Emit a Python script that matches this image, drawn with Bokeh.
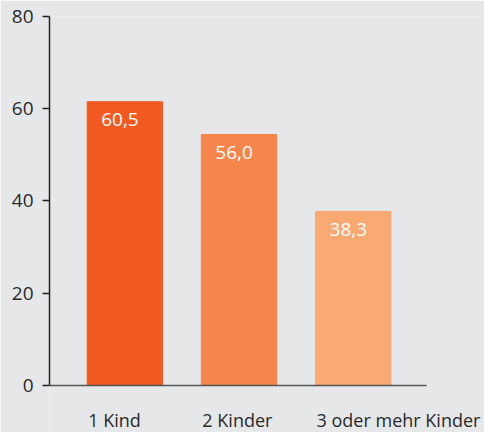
from bokeh.plotting import figure
from bokeh.models import Range1d, FixedTicker, ColumnDataSource
from bokeh.embed import file_html
from bokeh.resources import INLINE
from bokeh.core.properties import value

# ---- data ----
categories = ["1 Kind", "2 Kinder", "3 oder mehr Kinder"]
bar_heights = [61.5, 54.4, 37.7]
value_labels = ["60,5", "56,0", "38,3"]
y_ticks = [0, 20, 40, 60, 80]

# ---- style ----
palette = ["#f25a22", "#f5854a", "#f9a971"]
BG = "#e6e7e9"
FONT = "Open Sans"
BAR_W = 0.66
X_LO, X_HI = -0.66, 2.64      # extent of the x axis line
X_VIEW_HI = 3.15              # frame runs to the right edge so labels are not clipped

xs = list(range(len(categories)))
lefts = [x - BAR_W / 2 for x in xs]

src = ColumnDataSource(dict(x=xs, left=lefts, top=bar_heights,
                            label=value_labels, cat=categories, color=palette))

p = figure(width=484, height=432, output_backend="svg", toolbar_location=None,
           x_range=Range1d(X_LO, X_VIEW_HI), y_range=Range1d(-10.26, max(y_ticks)),
           min_border_left=49, min_border_right=0, min_border_top=16,
           min_border_bottom=0,
           background_fill_color=BG, border_fill_color=BG, outline_line_color=None)
p.grid.visible = False

p.vbar(x="x", width=BAR_W, top="top", bottom=0, color="color", source=src)
p.text(x="left", y="top", text="label", source=src, x_offset=14, y_offset=18,
       text_color="white", text_font=value(FONT), text_font_size="19px",
       text_baseline="alphabetic", text_align="left")

# category labels, left-aligned under each bar
p.text(x="left", y=0, text="cat", source=src, x_offset=1, y_offset=35,
       text_color="#2a2a2a", text_font=value(FONT), text_font_size="18px",
       text_baseline="alphabetic", text_align="left")

ya = p.yaxis[0]
ya.ticker = FixedTicker(ticks=y_ticks)
ya.bounds = (min(y_ticks), max(y_ticks))
ya.axis_line_color = "#222222"
ya.axis_line_width = 1.5
ya.major_tick_line_color = "#222222"
ya.major_tick_line_width = 1.5
ya.major_tick_out = 7
ya.major_tick_in = 0
ya.minor_tick_line_color = None
ya.major_label_standoff = 9
ya.major_label_text_font = FONT
ya.major_label_text_font_size = "19px"
ya.major_label_text_color = "#2a2a2a"

xa = p.xaxis[0]
xa.fixed_location = 0
xa.bounds = (X_LO, X_HI)
xa.ticker = FixedTicker(ticks=[])
xa.axis_line_color = "#555555"
xa.axis_line_width = 1.5
xa.major_tick_line_color = None
xa.major_tick_out = 0
xa.major_tick_in = 0
xa.minor_tick_line_color = None
xa.major_label_text_font_size = "0px"

open("out.html", "w").write(file_html(p, INLINE))
